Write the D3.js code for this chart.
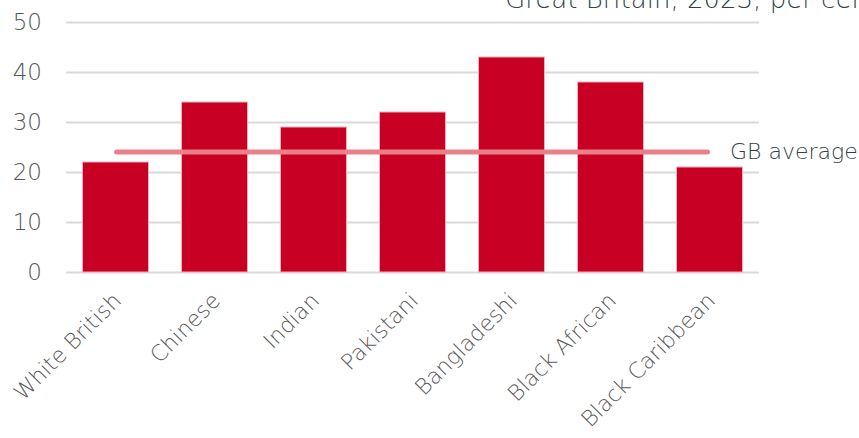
<!DOCTYPE html>
<html><head><meta charset="utf-8">
<script src="https://cdn.jsdelivr.net/npm/d3@7"></script>
<style>body{margin:0;background:#fff;}svg{display:block;font-family:"DejaVu Sans",sans-serif;}</style>
</head><body><svg id="c" width="859" height="438"></svg>
<script>
const categories = ["White British","Chinese","Indian","Pakistani","Bangladeshi","Black African","Black Caribbean"];
const values = [22,34,29,32,43,38,21];
const gbAverage = 24;
const yTicks = [0,10,20,30,40,50];
const subtitle = "Great Britain, 2023, per cent";
const avgLabel = "GB average";

const svg = d3.select("#c");
const x = d3.scaleBand().domain(categories).range([66,759]).paddingInner(1/3).paddingOuter(1/6);
const y = d3.scaleLinear().domain([0,50]).range([272,22]);
const cx = d => x(d) + x.bandwidth()/2;

svg.append("text").attr("x",505).attr("y",8).attr("font-size",26).attr("fill","#333f48").attr("font-weight",200).text(subtitle);

const yAxis = d3.axisLeft(y).tickValues(yTicks).tickSize(-693).tickPadding(24);
const gy = svg.append("g").attr("transform","translate(66,0)").call(yAxis);
gy.select(".domain").remove();
gy.selectAll(".tick line").attr("stroke","#d9d9d9").attr("stroke-width",2);
gy.selectAll(".tick text").attr("font-size",23).attr("fill","#595959").attr("font-family","'DejaVu Sans',sans-serif").attr("font-weight",200);

svg.append("g").selectAll("rect").data(values).join("rect")
  .attr("x",(d,i)=>x(categories[i])).attr("y",d=>y(d))
  .attr("width",x.bandwidth()).attr("height",d=>y(0)-y(d))
  .attr("fill","#c80024").attr("stroke","#f0b0bb").attr("stroke-width",1);

svg.append("line").attr("x1",cx(categories[0])+1).attr("x2",cx(categories[6])-2).attr("y1",y(gbAverage)).attr("y2",y(gbAverage))
  .attr("stroke","#ea8189").attr("stroke-width",5).attr("stroke-linecap","round");
svg.append("text").attr("x",730).attr("y",y(gbAverage)+7).attr("font-size",22).attr("fill","#333f48").attr("font-weight",200).text(avgLabel);

svg.append("g").selectAll("text").data(categories).join("text")
  .attr("transform",d=>`translate(${cx(d)+7},${302}) rotate(-45)`)
  .attr("text-anchor","end").attr("font-size",22).attr("fill","#595959").attr("font-weight",200).text(d=>d);
</script></body></html>
